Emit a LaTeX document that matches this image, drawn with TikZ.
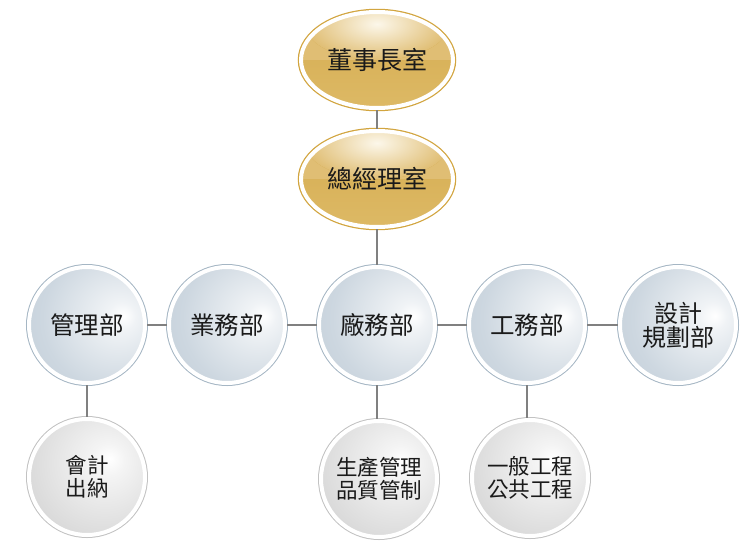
\documentclass[tikz,border=0pt]{standalone}
\usepackage{fontspec}
\newfontfamily\cjk{Noto Sans CJK TC}
\usetikzlibrary{shapes.geometric}
\definecolor{blueB}{HTML}{CDD7E0}
\definecolor{blueC}{HTML}{B9C7D2}
\definecolor{bluering}{HTML}{A5B6C4}
\definecolor{grayB}{HTML}{DADADA}
\definecolor{grayC}{HTML}{C8C8C8}
\definecolor{grayring}{HTML}{C2C2C2}
\definecolor{goldT}{HTML}{FCF7EA}
\definecolor{goldM}{HTML}{E0BE74}
\definecolor{goldB}{HTML}{D5AC50}
\definecolor{goldL}{HTML}{DDB965}
\definecolor{goldring}{HTML}{D2A53F}
\definecolor{conncol}{HTML}{808080}
\definecolor{txt}{HTML}{1A1A1A}
\pgfdeclareradialshading{bluegl}{\pgfpoint{16bp}{4bp}}{color(0bp)=(white); color(6bp)=(white!70!blueB); color(30bp)=(blueB); color(58bp)=(blueC); color(90bp)=(blueC)}
\pgfdeclareradialshading{graygl}{\pgfpoint{10bp}{8bp}}{color(0bp)=(white); color(7bp)=(white!70!grayB); color(32bp)=(grayB); color(58bp)=(grayC); color(90bp)=(grayC)}
\tikzset{
  ringbase/.style={inner sep=0pt, draw=white, line width=4pt, text=txt, align=center, font=\cjk\fontsize{24.5}{26}\selectfont},
  bluenode/.style={ringbase, circle, minimum size=116pt, preaction={draw=bluering, line width=6pt}, shade, shading=bluegl},
  graynode/.style={ringbase, circle, minimum size=116pt, preaction={draw=grayring, line width=6pt}, shade, shading=graygl, font=\cjk\fontsize{21.5}{22.5}\selectfont},
  goldnode/.style={ringbase, ellipse, minimum width=152pt, minimum height=96pt, preaction={draw=goldring, line width=6.5pt}, fill=goldB, font=\cjk\fontsize{25}{27}\selectfont,
    path picture={
      \fill[top color=goldB, bottom color=goldL] (path picture bounding box.west) rectangle (path picture bounding box.south east);
      \begin{scope}
        \clip (path picture bounding box.north west) rectangle (path picture bounding box.east);
        \fill[goldM] (path picture bounding box.north west) rectangle (path picture bounding box.east);
        \fill[inner color=goldT, outer color=goldM] ([yshift=-12pt]path picture bounding box.north) ellipse [x radius=72pt, y radius=36pt];
      \end{scope}
    }},
  conn/.style={draw=conncol, line width=1.1pt}
}
\begin{document}
\begin{tikzpicture}[x=1pt,y=-1pt]
\useasboundingbox[fill=white] (0,0) rectangle (753,552);
% nodes
\node[goldnode] (chair) at (377,60) {董事長室};
\node[goldnode] (gm) at (377,179) {總經理室};
\node[bluenode] (mgmt) at (87,325) {管理部};
\node[bluenode] (sales) at (227,325) {業務部};
\node[bluenode] (fac) at (377,325) {廠務部};
\node[bluenode] (eng) at (527,325) {工務部};
\node[bluenode, font=\cjk\fontsize{24}{24}\selectfont] (design) at (678,325) {設計\\規劃部};
\node[graynode] (acct) at (87,477) {會計\\出納};
\node[graynode] (prod) at (379,479) {生產管理\\品質管制};
\node[graynode] (works) at (530,478) {一般工程\\公共工程};
% connectors
\draw[conn] (chair) -- (gm);
\draw[conn] (gm) -- (fac);
\draw[conn] (mgmt) -- (sales);
\draw[conn] (sales) -- (fac);
\draw[conn] (fac) -- (eng);
\draw[conn] (eng) -- (design);
\draw[conn] (mgmt) -- (mgmt |- acct.north);
\draw[conn] (fac) -- (fac |- prod.north);
\draw[conn] (eng) -- (eng |- works.north);
\end{tikzpicture}
\end{document}
